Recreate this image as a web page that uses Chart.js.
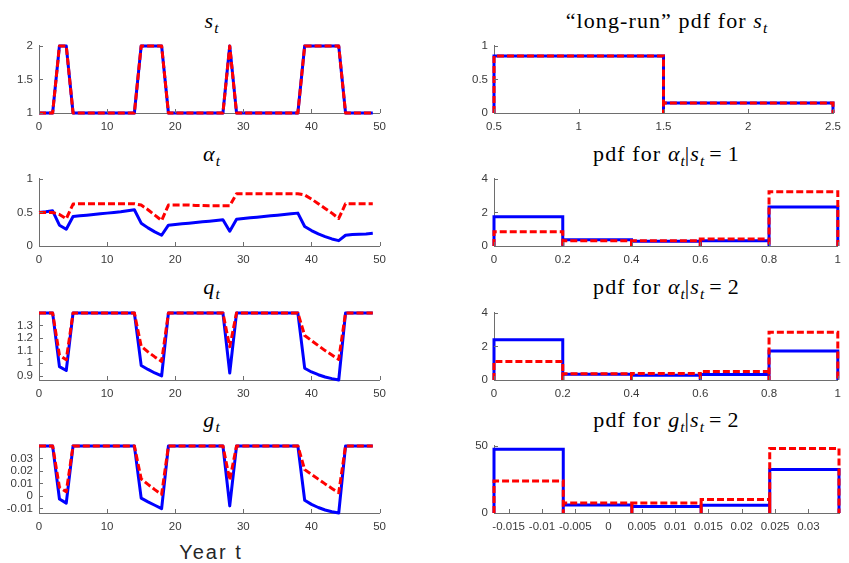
<!DOCTYPE html>
<html>
<head>
<meta charset="utf-8">
<script src="https://cdn.jsdelivr.net/npm/chart.js@4.4.0/dist/chart.umd.min.js"></script>
<style>
  html, body { margin: 0; padding: 0; background: #fff; }
  #wrap { position: relative; width: 849px; height: 563px; overflow: hidden; }
  #wrap canvas { position: absolute; }
  .ttl { position: absolute; font-family: "Liberation Serif", "Times New Roman", serif; font-size: 22px; line-height: 24px;
         color: #000; text-align: center; white-space: nowrap; letter-spacing: 1.1px; }
  .ttl sub { font-size: 70%; vertical-align: -0.3em; line-height: 0; letter-spacing: 0; }
  .ttl .eq { padding: 0 5px; }
  #xlab { position: absolute; left: 111px; width: 200px; top: 542px; text-align: center; font-family: "Liberation Sans", Arial, sans-serif;
          font-size: 20px; line-height: 20px; letter-spacing: 2px; color: #262626; }
</style>
</head>
<body>
<div id="wrap">
  <div class="ttl" style="left:39px;width:345px;top:9px"><i>s</i><sub><i>t</i></sub></div>
  <div class="ttl" style="left:494px;width:345px;top:9px">“long-run” pdf for <i>s</i><sub><i>t</i></sub></div>
  <div class="ttl" style="left:39px;width:345px;top:142px"><i>α</i><sub><i>t</i></sub></div>
  <div class="ttl" style="left:494px;width:345px;top:142px">pdf for <i>α</i><sub><i>t</i></sub>|<i>s</i><sub><i>t</i></sub><span class="eq">=</span>1</div>
  <div class="ttl" style="left:39px;width:345px;top:275px"><i>q</i><sub><i>t</i></sub></div>
  <div class="ttl" style="left:494px;width:345px;top:275px">pdf for <i>α</i><sub><i>t</i></sub>|<i>s</i><sub><i>t</i></sub><span class="eq">=</span>2</div>
  <div class="ttl" style="left:39px;width:345px;top:408px"><i>g</i><sub><i>t</i></sub></div>
  <div class="ttl" style="left:494px;width:345px;top:408px">pdf for <i>g</i><sub><i>t</i></sub>|<i>s</i><sub><i>t</i></sub><span class="eq">=</span>2</div>
  <div id="xlab">Year t</div>
</div>
<script>
// time axis
const years = [0,1,2,3,4,5,6,7,8,9,10,11,12,13,14,15,16,17,18,19,20,21,22,23,24,
  25,26,27,28,29,30,31,32,33,34,35,36,37,38,39,40,41,42,43,44,45,46,47,48,49];

// regime s_t (both series identical)
const sVals = [1,1,1,2,2, 1,1,1,1,1, 1,1,1,1,1, 2,2,2,2,1, 1,1,1,1,1,
  1,1,1,2,1, 1,1,1,1,1, 1,1,1,1,2, 2,2,2,2,2, 1,1,1,1,1];

const alphaBlue = [0.50,0.51,0.525,0.31,0.25, 0.44,0.45,0.46,0.47,0.48, 0.49,0.50,0.51,0.525,0.54,
  0.34,0.27,0.21,0.16,0.31, 0.32,0.33,0.34,0.35,0.36, 0.37,0.38,0.39,0.22,0.40,
  0.41,0.42,0.43,0.44,0.45, 0.46,0.47,0.48,0.49,0.29, 0.23,0.18,0.14,0.105,0.08,
  0.16,0.17,0.175,0.18,0.19];
const alphaRed = [0.50,0.50,0.50,0.47,0.405, 0.625,0.63,0.63,0.63,0.63, 0.63,0.63,0.63,0.63,0.63,
  0.61,0.54,0.46,0.38,0.61, 0.61,0.61,0.61,0.605,0.605, 0.60,0.60,0.60,0.60,0.78,
  0.78,0.78,0.78,0.78,0.78, 0.78,0.78,0.78,0.78,0.76, 0.70,0.63,0.56,0.49,0.41,
  0.63,0.63,0.63,0.63,0.63];

const qBlue = [1.4,1.4,1.4,0.972,0.942, 1.4,1.4,1.4,1.4,1.4, 1.4,1.4,1.4,1.4,1.4,
  0.982,0.95,0.922,0.898,1.4, 1.4,1.4,1.4,1.4,1.4, 1.4,1.4,1.4,0.922,1.4,
  1.4,1.4,1.4,1.4,1.4, 1.4,1.4,1.4,1.4,0.96, 0.93,0.908,0.89,0.877,0.866,
  1.4,1.4,1.4,1.4,1.4];
const qRed = [1.4,1.4,1.4,1.064,1.027, 1.4,1.4,1.4,1.4,1.4, 1.4,1.4,1.4,1.4,1.4,
  1.134,1.09,1.05,1.014,1.4, 1.4,1.4,1.4,1.4,1.4, 1.4,1.4,1.4,1.13,1.4,
  1.4,1.4,1.4,1.4,1.4, 1.4,1.4,1.4,1.4,1.22, 1.18,1.14,1.10,1.065,1.03,
  1.4,1.4,1.4,1.4,1.4];

const gBlue = [0.04,0.04,0.04,-0.0025,-0.0058, 0.04,0.04,0.04,0.04,0.04, 0.04,0.04,0.04,0.04,0.04,
  -0.0018,-0.0048,-0.0075,-0.0102,0.04, 0.04,0.04,0.04,0.04,0.04, 0.04,0.04,0.04,-0.008,0.04,
  0.04,0.04,0.04,0.04,0.04, 0.04,0.04,0.04,0.04,-0.0035, -0.0068,-0.0093,-0.0113,-0.0127,-0.0137,
  0.04,0.04,0.04,0.04,0.04];
const gRed = [0.04,0.04,0.04,0.0069,0.0032, 0.04,0.04,0.04,0.04,0.04, 0.04,0.04,0.04,0.04,0.04,
  0.0136,0.0092,0.005,0.0012,0.04, 0.04,0.04,0.04,0.04,0.04, 0.04,0.04,0.04,0.0126,0.04,
  0.04,0.04,0.04,0.04,0.04, 0.04,0.04,0.04,0.04,0.021, 0.0172,0.0134,0.0096,0.006,0.0025,
  0.04,0.04,0.04,0.04,0.04];

// histograms: bin edges and densities
const sEdges = [0.5, 1.5, 2.5];
const sPdf = [0.85, 0.15];
const alphaEdges = [0, 0.2, 0.4, 0.6, 0.8, 1];
const alphaS1Blue = [1.75, 0.37, 0.28, 0.31, 2.32];
const alphaS1Red = [0.85, 0.31, 0.31, 0.42, 3.24];
const alphaS2Blue = [2.40, 0.35, 0.28, 0.33, 1.73];
const alphaS2Red = [1.11, 0.37, 0.39, 0.50, 2.84];
const gEdges = [-0.0172, -0.0068, 0.0035, 0.0139, 0.0242, 0.0346];
const gS2Blue = [47.5, 6.0, 4.9, 5.8, 32.4];
const gS2Red = [23.8, 7.4, 7.4, 10.0, 48.1];

// tick labels
const yearTicks = [0, 10, 20, 30, 40, 50];
const sTicks = [1, 1.5, 2];
const alphaTicks = [0, 0.5, 1];
const qTicks = [0.9, 1, 1.1, 1.2, 1.3];
const gTicks = [-0.01, 0, 0.01, 0.02, 0.03];
const sPdfXTicks = [0.5, 1, 1.5, 2, 2.5];
const sPdfYTicks = [0, 0.5, 1];
const alphaPdfXTicks = [0, 0.2, 0.4, 0.6, 0.8, 1];
const alphaPdfYTicks = [0, 2, 4];
const gPdfXTicks = [-0.015, -0.01, -0.005, 0, 0.005, 0.01, 0.015, 0.02, 0.025, 0.03];
const gPdfYTicks = [0, 50];

const BLUE = "#0000ff";
const RED = "#ff0000";
const AXIS_COLOR = "#6e6e6e";
const TICK_COLOR = "#3a3a3a";

const COLS = { L: { left: 39, right: 384 }, R: { left: 494, right: 839 } };
const ROWS = [
  { top: 41, bottom: 113 },
  { top: 174, bottom: 246 },
  { top: 308, bottom: 380 },
  { top: 441, bottom: 513 }
];

// inward tick marks, matlab style
const inTicks = {
  id: "inTicks",
  afterDraw(chart) {
    const ctx = chart.ctx;
    const a = chart.chartArea;
    ctx.save();
    ctx.strokeStyle = AXIS_COLOR;
    ctx.lineWidth = 1;
    ctx.beginPath();
    chart.scales.x.ticks.forEach(t => {
      const px = Math.round(chart.scales.x.getPixelForValue(t.value)) + 0.5;
      ctx.moveTo(px, a.bottom);
      ctx.lineTo(px, a.bottom - 4);
    });
    chart.scales.y.ticks.forEach(t => {
      const py = Math.round(chart.scales.y.getPixelForValue(t.value)) + 0.5;
      ctx.moveTo(a.left, py);
      ctx.lineTo(a.left + 4, py);
    });
    ctx.stroke();
    ctx.restore();
  }
};

function axis(kind, r, size) {
  return {
    type: "linear",
    min: r.min,
    max: r.max,
    afterBuildTicks: s => { s.ticks = r.ticks.map(v => ({ value: v })); },
    afterFit: s => { if (kind === "x") s.height = size; else s.width = size; },
    grid: { display: true, drawOnChartArea: false, drawTicks: false },
    border: { display: true, color: AXIS_COLOR, width: 1 },
    ticks: {
      color: TICK_COLOR,
      font: { family: "'Liberation Sans', Arial, sans-serif", size: 11.5 },
      padding: kind === "x" ? 7 : 6,
      autoSkip: false,
      maxRotation: 0,
      callback: v => String(v)
    }
  };
}

function makePanel(col, row, datasets, xr, yr) {
  const YW = 45, PADT = 8, PADR = 9, XH = 24;
  const c = COLS[col], r = ROWS[row];
  const w = (c.right - c.left) + YW + PADR;
  const h = (r.bottom - r.top) + PADT + XH;
  const cv = document.createElement("canvas");
  cv.width = w; cv.height = h;
  cv.style.left = (c.left - YW) + "px";
  cv.style.top = (r.top - PADT) + "px";
  cv.style.width = w + "px";
  cv.style.height = h + "px";
  document.getElementById("wrap").appendChild(cv);

  new Chart(cv, {
    type: "line",
    data: { datasets },
    options: {
      responsive: false,
      animation: false,
      events: [],
      layout: { padding: { top: PADT, right: PADR, left: 0, bottom: 0 } },
      plugins: { legend: { display: false }, tooltip: { enabled: false } },
      scales: { x: axis("x", xr, XH), y: axis("y", yr, YW) }
    },
    plugins: [inTicks]
  });
}

function series(vals) {
  return years.map((t, i) => ({ x: t, y: vals[i] }));
}

// each bin as an open rectangle outline
function bins(edges, h) {
  const pts = [];
  for (let i = 0; i < h.length; i++) {
    pts.push({ x: edges[i], y: 0 }, { x: edges[i], y: h[i] }, { x: edges[i + 1], y: h[i] }, { x: edges[i + 1], y: 0 });
  }
  return pts;
}

function blue(data, join) {
  return { data, borderColor: BLUE, borderWidth: 3, pointRadius: 0, tension: 0, clip: false,
    borderJoinStyle: join || "round", order: 2 };
}
function red(data, join) {
  return { data, borderColor: RED, borderWidth: 3, borderDash: [7, 3], pointRadius: 0, tension: 0, clip: false,
    borderJoinStyle: join || "round", order: 1 };
}

const yearAxis = { min: 0, max: 50, ticks: yearTicks };

// left column: time series
makePanel("L", 0, [blue(series(sVals)), red(series(sVals))], yearAxis, { min: 1, max: 2, ticks: sTicks });
makePanel("L", 1, [blue(series(alphaBlue)), red(series(alphaRed))], yearAxis, { min: 0, max: 1, ticks: alphaTicks });
makePanel("L", 2, [blue(series(qBlue)), red(series(qRed))], yearAxis, { min: 0.866, max: 1.4, ticks: qTicks });
makePanel("L", 3, [blue(series(gBlue)), red(series(gRed))], yearAxis, { min: -0.0137, max: 0.04, ticks: gTicks });

// right column: histograms
makePanel("R", 0, [blue(bins(sEdges, sPdf), "miter"), red(bins(sEdges, sPdf), "miter")],
  { min: 0.5, max: 2.5, ticks: sPdfXTicks }, { min: 0, max: 1, ticks: sPdfYTicks });
makePanel("R", 1, [blue(bins(alphaEdges, alphaS1Blue), "miter"), red(bins(alphaEdges, alphaS1Red), "miter")],
  { min: 0, max: 1, ticks: alphaPdfXTicks }, { min: 0, max: 4, ticks: alphaPdfYTicks });
makePanel("R", 2, [blue(bins(alphaEdges, alphaS2Blue), "miter"), red(bins(alphaEdges, alphaS2Red), "miter")],
  { min: 0, max: 1, ticks: alphaPdfXTicks }, { min: 0, max: 4, ticks: alphaPdfYTicks });
makePanel("R", 3, [blue(bins(gEdges, gS2Blue), "miter"), red(bins(gEdges, gS2Red), "miter")],
  { min: -0.0172, max: 0.0346, ticks: gPdfXTicks }, { min: 0, max: 50, ticks: gPdfYTicks });
</script>
</body>
</html>
